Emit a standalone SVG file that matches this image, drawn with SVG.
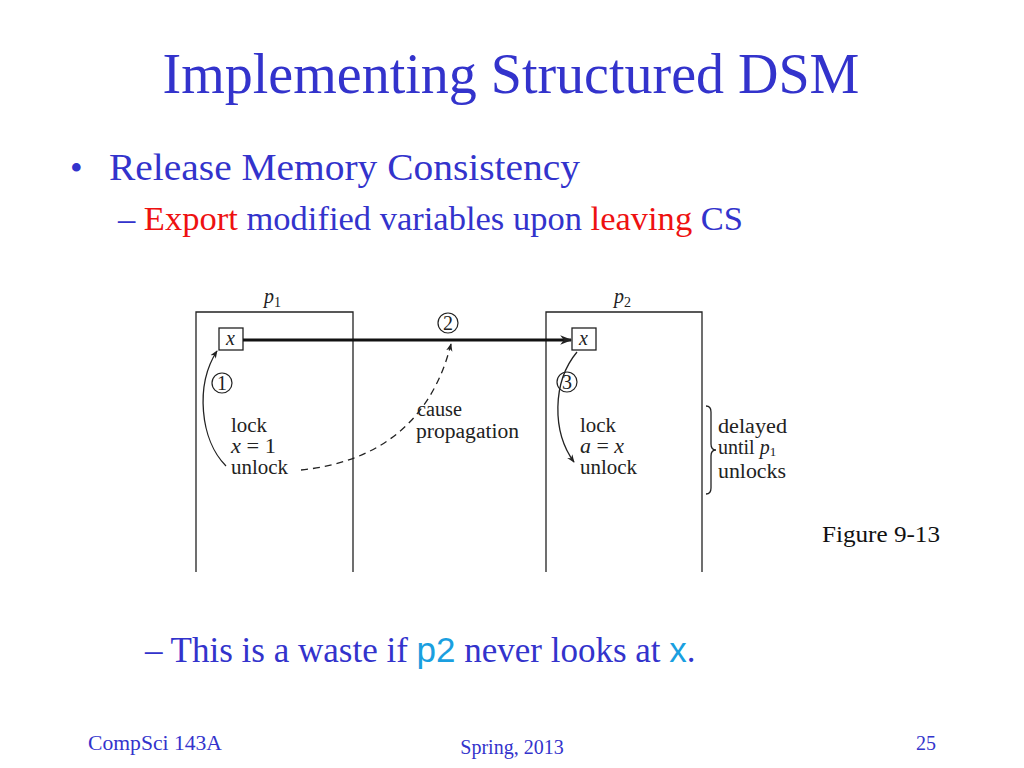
<svg xmlns="http://www.w3.org/2000/svg" width="1024" height="768" viewBox="0 0 1024 768">
<defs>
<style>
.t{font-family:"Liberation Serif","Times New Roman",serif;fill:#3333cc}
.r{fill:#ee1111}
.c{font-family:"Liberation Sans",Arial,sans-serif;fill:#1a9fe0}
.d{font-family:"Liberation Serif","Times New Roman",serif;fill:#222;font-size:20px}
.i{font-style:italic}
.ln{stroke:#222;stroke-width:1.3;fill:none}
.cir{stroke:#222;stroke-width:1.2;fill:none}
</style>
<marker id="ah" viewBox="0 0 10 10" refX="9" refY="5" markerWidth="8" markerHeight="8" orient="auto" markerUnits="userSpaceOnUse"><path d="M0,1 L10,5 L0,9 L3,5 Z" fill="#222"/></marker>
<marker id="ahb" viewBox="0 0 10 10" refX="9" refY="5" markerWidth="14" markerHeight="12" orient="auto" markerUnits="userSpaceOnUse"><path d="M0,1 L10,5 L0,9 L3,5 Z" fill="#222"/></marker>
</defs>
<rect width="1024" height="768" fill="#fff"/>
<text class="t" x="511" y="93" font-size="56" text-anchor="middle">Implementing Structured DSM</text>
<text class="t" x="70" y="180" font-size="36">•</text>
<text class="t" x="109" y="180" font-size="38" textLength="471" lengthAdjust="spacingAndGlyphs">Release Memory Consistency</text>
<text class="t" x="118" y="230" font-size="34" textLength="625" lengthAdjust="spacingAndGlyphs">– <tspan class="r">Export</tspan> modified variables upon <tspan class="r">leaving</tspan> CS</text>

<g id="p1">
<path class="ln" d="M196,572 V312 H353 V572"/>
<text class="d i" x="264" y="303">p<tspan font-size="14" dy="4" font-style="normal">1</tspan></text>
<rect x="219" y="328" width="24" height="22" class="ln" stroke-width="1"/>
<text class="d i" x="226" y="345">x</text>
<circle class="cir" cx="222" cy="383" r="10"/>
<text class="d" x="222" y="390" text-anchor="middle" font-size="18">1</text>
<text class="d" x="231" y="432" textLength="36" lengthAdjust="spacingAndGlyphs">lock</text>
<text class="d" x="231" y="453" textLength="45" lengthAdjust="spacingAndGlyphs"><tspan class="i">x</tspan> = 1</text>
<text class="d" x="231" y="474" textLength="57" lengthAdjust="spacingAndGlyphs">unlock</text>
</g>
<g id="p2">
<path class="ln" d="M546,572 V312 H702 V572"/>
<text class="d i" x="614" y="303">p<tspan font-size="14" dy="4" font-style="normal">2</tspan></text>
<rect x="572" y="328" width="24" height="22" class="ln" stroke-width="1"/>
<text class="d i" x="579" y="345">x</text>
<circle class="cir" cx="567" cy="382" r="10"/>
<text class="d" x="567" y="389" text-anchor="middle" font-size="18">3</text>
<text class="d" x="580" y="432" textLength="36" lengthAdjust="spacingAndGlyphs">lock</text>
<text class="d" x="580" y="453" textLength="44" lengthAdjust="spacingAndGlyphs"><tspan class="i">a</tspan> = <tspan class="i">x</tspan></text>
<text class="d" x="580" y="474" textLength="57" lengthAdjust="spacingAndGlyphs">unlock</text>
</g>
<g id="step2">
<circle class="cir" cx="448" cy="323" r="10"/>
<text class="d" x="448" y="330" text-anchor="middle" font-size="18">2</text>
</g>
<g id="cause">
<text class="d" x="417" y="416" textLength="45" lengthAdjust="spacingAndGlyphs">cause</text>
<text class="d" x="416" y="438" textLength="103" lengthAdjust="spacingAndGlyphs">propagation</text>
</g>
<g id="delayed">
<path class="ln" d="M706,406 Q711,406 711,412 V444 Q711,450 716,450 Q711,450 711,456 V488 Q711,494 706,494" stroke-width="1"/>
<text class="d" x="718" y="433" textLength="69" lengthAdjust="spacingAndGlyphs">delayed</text>
<text class="d" x="718" y="454">until <tspan class="i">p</tspan><tspan font-size="13" dy="2">1</tspan></text>
<text class="d" x="718" y="478" textLength="68" lengthAdjust="spacingAndGlyphs">unlocks</text>
</g>
<g id="connectors">
<line x1="243" y1="340" x2="571" y2="340" stroke="#111" stroke-width="3" marker-end="url(#ahb)"/>
<path class="ln" d="M226,466 C200,440 195,385 217,351" marker-end="url(#ah)"/>
<path class="ln" d="M301,470 C380,462 432,420 451,344" stroke-dasharray="7,5" marker-end="url(#ah)"/>
<path class="ln" d="M577,352 C552,382 552,432 574,462" marker-end="url(#ah)"/>
</g>
<text x="822" y="542" font-size="24" font-family="Liberation Serif,serif" fill="#111" textLength="118" lengthAdjust="spacingAndGlyphs">Figure 9-13</text>
<text class="t" x="145" y="662" font-size="35">– This is a waste if <tspan class="c">p2</tspan> never looks at <tspan class="c">x</tspan>.</text>
<text class="t" x="88" y="750" font-size="20" textLength="134" lengthAdjust="spacingAndGlyphs">CompSci 143A</text>
<text class="t" x="512" y="754" font-size="20" text-anchor="middle">Spring, 2013</text>
<text class="t" x="936" y="750" font-size="20" text-anchor="end">25</text>
</svg>
